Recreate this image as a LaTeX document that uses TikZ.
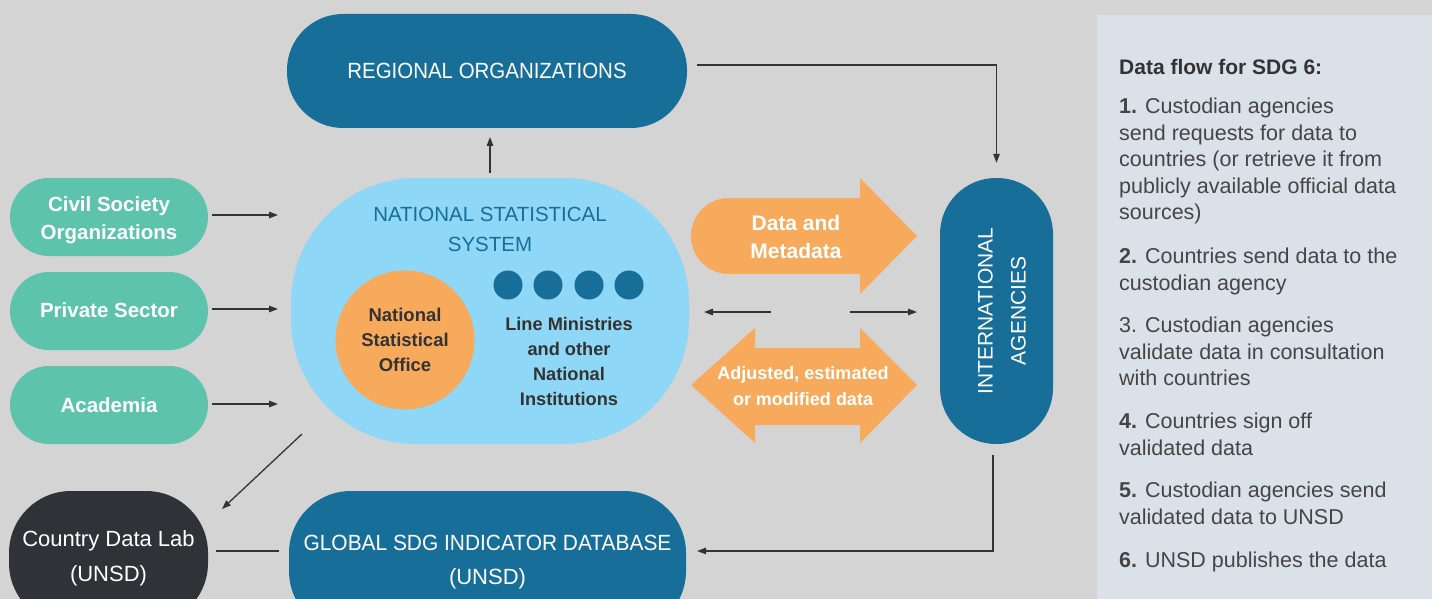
\documentclass[tikz,border=0pt]{standalone}
\usepackage{fontspec}
\setmainfont{Liberation Sans}
\usetikzlibrary{arrows.meta}
\definecolor{bg}{HTML}{D4D4D4}
\definecolor{panelc}{HTML}{DAE1E9}
\definecolor{dblue}{HTML}{176E99}
\definecolor{lblue}{HTML}{8ED7F6}
\definecolor{sgreen}{HTML}{5DC3AC}
\definecolor{sorange}{HTML}{F7AA5C}
\definecolor{darkbox}{HTML}{2F3236}
\definecolor{linec}{HTML}{333333}
\definecolor{paneltext}{HTML}{454545}
\definecolor{textdark}{HTML}{333333}
\tikzset{
  pill/.style={rectangle, inner sep=0pt, align=center},
  arr/.style={draw=linec, line width=1.3pt, -{Triangle[length=9pt,width=6.5pt]}},
  link/.style={draw=linec, line width=1.3pt},
  greenbox/.style={pill, fill=sgreen, minimum width=198pt, minimum height=78pt, rounded corners=39pt},
  greentext/.style={pill, text=white, font=\fontsize{20.5}{28}\selectfont\bfseries},
  bluebox/.style={pill, fill=dblue, text=white, font=\fontsize{22}{34}\selectfont},
  panel/.style={anchor=base west, inner sep=0pt, text=paneltext, font=\fontsize{21.5}{26}\selectfont},
  bigarrow/.style={fill=sorange},
}
\begin{document}
\begin{tikzpicture}[x=1pt,y=-1pt]
\useasboundingbox (0,0) rectangle (1432,599);
\clip (0,0) rectangle (1432,599);
\fill[bg] (0,0) rectangle (1432,599);
\fill[panelc] (1097,15) rectangle (1432,599);

% main blocks
\node[bluebox, minimum width=400pt, minimum height=114pt, rounded corners=56pt] (reg) at (487,71)
  {\scalebox{0.93}[1]{REGIONAL ORGANIZATIONS}};
\node[pill, fill=lblue, minimum width=398pt, minimum height=266pt, rounded corners=125pt] (nss) at (490,311) {};
\node[pill, text=dblue, font=\fontsize{20.5}{30}\selectfont] (nsstitle) at (490,229)
  {NATIONAL STATISTICAL\\SYSTEM};
\node[circle, fill=sorange, minimum size=139pt, inner sep=0pt, align=center, text=textdark,
  font=\fontsize{18.5}{25}\selectfont\bfseries] (nso) at (405,340) {National\\Statistical\\Office};
\foreach \i/\x in {1/508,2/548,3/589,4/629}
  \node[circle, fill=dblue, minimum size=29pt, inner sep=0pt] (dot\i) at (\x,285) {};
\node[pill, text=textdark, font=\fontsize{18.2}{25}\selectfont\bfseries] (lm) at (569,361)
  {Line Ministries\\and other\\National\\Institutions};

\node[bluebox, minimum width=113pt, minimum height=266pt, rounded corners=56pt] (intl) at (996.5,311) {};
\node[pill, text=white, rotate=90, font=\fontsize{21}{33}\selectfont] (intltext) at (1002,311)
  {INTERNATIONAL\\AGENCIES};

\node[greenbox] (cso) at (109,217) {};
\node[greentext] (csotext) at (109,220) {Civil Society\\Organizations};
\node[greenbox] (priv) at (109,311) {};
\node[greentext] (privtext) at (109,310) {Private Sector};
\node[greenbox] (acad) at (109,405) {};
\node[greentext] (acadtext) at (109,405) {Academia};

\node[pill, fill=darkbox, text=white, minimum width=199pt, minimum height=134pt, rounded corners=62pt,
  font=\fontsize{22}{35}\selectfont] (cdl) at (108.5,558) {Country Data Lab\\(UNSD)};
\node[bluebox, minimum width=397pt, minimum height=142pt, rounded corners=62pt] (gdb) at (487.5,562)
  {\scalebox{0.95}[1]{GLOBAL SDG INDICATOR DATABASE}\\(UNSD)};

% orange flow arrows
\fill[bigarrow] (729,236) circle (38pt);
\fill[bigarrow] (728,198) rectangle (861,274);
\fill[bigarrow] (860,178) -- (917,236) -- (860,294) -- cycle;
\node[pill, text=white, font=\fontsize{21}{28}\selectfont\bfseries] (dm) at (796,237) {Data and\\Metadata};

\fill[bigarrow] (691,385) -- (755,328) -- (755,348) -- (860,348) -- (860,328) -- (917,385)
  -- (860,443) -- (860,425) -- (755,425) -- (755,443) -- cycle;
\node[pill, text=white, font=\fontsize{18}{25.5}\selectfont\bfseries] (adj) at (803,386)
  {Adjusted, estimated\\or modified data};

% connectors
\coordinate (in1) at (278,215);
\coordinate (in2) at (278,309);
\coordinate (in3) at (278,404);
\draw[arr] ([shift={(4,-2)}]cso.east) -- (in1);
\draw[arr] ([shift={(4,-2)}]priv.east) -- (in2);
\draw[arr] ([shift={(4,-1)}]acad.east) -- (in3);

\coordinate (regin) at (490,137);
\draw[arr] ([yshift=5pt]nss.north) -- (regin);
\draw[arr] ([shift={(10,-6)}]reg.east) -| ([yshift=15pt]intl.north);

\coordinate (diagstart) at (302,434);
\coordinate (diagend) at (222,509);
\draw[arr] (diagstart) -- (diagend);

\coordinate (gin) at (697,551);
\draw[arr] ([shift={(-3.5,11)}]intl.south) |- (gin);
\draw[link] ([shift={(8,-7)}]cdl.east) -- ([shift={(-10,-11)}]gdb.west);

\coordinate (la) at (771,312);
\coordinate (lb) at (704,312);
\coordinate (ra) at (850,312);
\coordinate (rb) at (917,312);
\draw[arr] (la) -- (lb);
\draw[arr] (ra) -- (rb);

% side panel
\node[panel, text=textdark, font=\fontsize{21}{26}\selectfont\bfseries] (ptitle) at (1119,74.5) {Data flow for SDG 6:};
\node[panel] (p1a) at (1119,113.5) {\textbf{1.} Custodian agencies};
\node[panel] (p1b) at (1119,140) {send requests for data to};
\node[panel] (p1c) at (1119,166.5) {countries (or retrieve it from};
\node[panel] (p1d) at (1119,193) {publicly available official data};
\node[panel] (p1e) at (1119,219.5) {sources)};
\node[panel] (p2a) at (1119,263.5) {\textbf{2.} Countries send data to the};
\node[panel] (p2b) at (1119,290) {custodian agency};
\node[panel] (p3a) at (1119,332.5) {3. Custodian agencies};
\node[panel] (p3b) at (1119,359) {validate data in consultation};
\node[panel] (p3c) at (1119,385.5) {with countries};
\node[panel] (p4a) at (1119,428.5) {\textbf{4.} Countries sign off};
\node[panel] (p4b) at (1119,455) {validated data};
\node[panel] (p5a) at (1119,497.5) {\textbf{5.} Custodian agencies send};
\node[panel] (p5b) at (1119,524) {validated data to UNSD};
\node[panel] (p6a) at (1119,567.5) {\textbf{6.} UNSD publishes the data};
\end{tikzpicture}
\end{document}
